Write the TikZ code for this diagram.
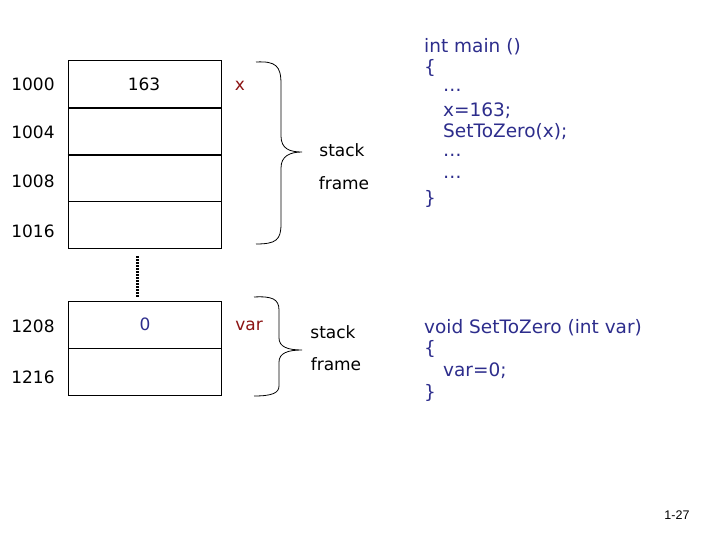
\documentclass[tikz,border=0pt]{standalone}
\usepackage{fontspec}
\setmainfont{DejaVu Sans}
\newfontfamily\labfont{DejaVu Sans}
\newfontfamily\pgfont{Liberation Sans}
\definecolor{codeblue}{RGB}{45,45,140}
\definecolor{varred}{RGB}{140,20,20}
\begin{document}
\begin{tikzpicture}[x=1pt,y=-1pt,
  cell/.style={draw,line width=0.8pt,minimum width=153pt,minimum height=47pt,inner sep=0pt},
  addr/.style={font=\labfont\fontsize{17}{17}\selectfont},
  lab/.style={font=\labfont\fontsize{17}{17}\selectfont},
  code/.style={font=\fontsize{18.5}{18.5}\selectfont,text=codeblue,anchor=west,inner sep=0pt},
  brace/.style={line width=0.8pt}]
\useasboundingbox (0,0) rectangle (720,540);
% upper cells
\node[cell] (c1) at (144.5,84) {};
\node[cell] (c2) at (144.5,131.5) {};
\node[cell] (c3) at (144.5,178) {};
\node[cell] (c4) at (144.5,224.5) {};
\draw[line width=2pt] (c2.south west) -- (c2.south east);
% lower cells
\node[cell] (d1) at (145,324.5) {};
\node[cell] (d2) at (145,371.5) {};
% dotted link
\coordinate (g1) at (137,256);
\coordinate (g2) at (137,297);
\draw[line width=3pt,dash pattern=on 2pt off 1pt] (g1) -- (g2);
% addresses
\node[addr] (a1) at (33,84) {1000};
\node[addr] (a2) at (33,132) {1004};
\node[addr] (a3) at (33,181) {1008};
\node[addr] (a4) at (33,231) {1016};
\node[addr] (a5) at (33,326) {1208};
\node[addr] (a6) at (33,377) {1216};
% values
\node[addr] (v1) at (144,84) {163};
\node[addr,text=codeblue] (v2) at (145,324) {0};
\node[lab,text=varred] (n1) at (240,86) {x};
\node[lab,text=varred] (n2) at (249,326) {var};
% braces
\draw[brace] (256,62) .. controls (276,61) and (281,66) .. (281,84)
  -- (281,136) .. controls (281,149) and (290,152) .. (302,152)
  .. controls (290,152) and (281,156) .. (281,168)
  -- (281,224) .. controls (281,240) and (276,244) .. (256,244);
\draw[brace] (254,297) .. controls (272,296) and (279,299) .. (279,310)
  -- (279,338) .. controls (279,347) and (288,350) .. (302,350)
  .. controls (288,350) and (279,353) .. (279,362)
  -- (279,386) .. controls (279,393) and (272,396) .. (254,396);
\node[lab] (s1) at (342,150) {stack};
\node[lab] (f1) at (344,183) {frame};
\node[lab] (s2) at (333,332) {stack};
\node[lab] (f2) at (336,364) {frame};
% main code
\node[code] (m1) at (424,47) {int main ()};
\node[code] (m2) at (424,68) {\{};
\node[code] (m3) at (443,90) {…};
\node[code] (m4) at (443,111) {x=163;};
\node[code] (m5) at (443,132) {SetToZero(x);};
\node[code] (m6) at (443,155) {…};
\node[code] (m7) at (443,177) {…};
\node[code] (m8) at (424,199) {\}};
% function code
\node[code] (p1) at (424,328) {void SetToZero (int var)};
\node[code] (p2) at (424,349) {\{};
\node[code] (p3) at (443,371) {var=0;};
\node[code] (p4) at (424,393) {\}};
\node[font=\pgfont\fontsize{12.5}{12.5}\selectfont] (pg) at (677,515) {1-27};
\end{tikzpicture}
\end{document}
